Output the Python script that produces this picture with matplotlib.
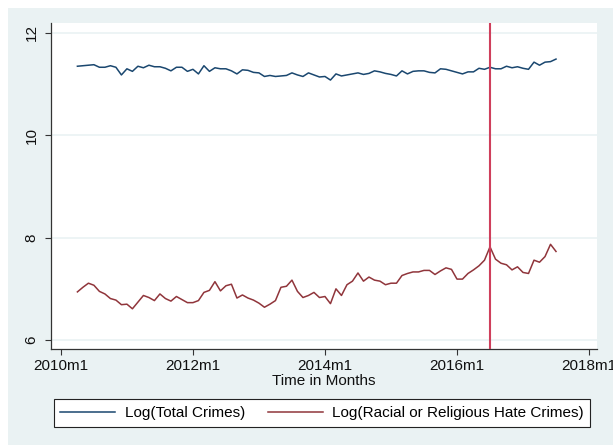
import numpy as np
import matplotlib
matplotlib.use('Agg')
import matplotlib.pyplot as plt
from matplotlib.patches import Rectangle

plt.rcParams['font.family'] = ['Liberation Sans', 'DejaVu Sans']

# monthly index counted from 2010m1 (0 = 2010m1)
months = np.arange(3, 91)

log_total = [11.35, 11.36, 11.37, 11.38, 11.33, 11.33, 11.36, 11.33, 11.18, 11.30,
             11.25, 11.35, 11.32, 11.37, 11.34, 11.34, 11.31, 11.26, 11.33, 11.33,
             11.25, 11.29, 11.20, 11.36, 11.25, 11.32, 11.30, 11.30, 11.26, 11.20,
             11.28, 11.27, 11.23, 11.22, 11.15, 11.17, 11.15, 11.16, 11.17, 11.22,
             11.18, 11.15, 11.22, 11.18, 11.14, 11.15, 11.08, 11.20, 11.16, 11.18,
             11.20, 11.22, 11.19, 11.21, 11.26, 11.24, 11.21, 11.19, 11.16, 11.26,
             11.20, 11.25, 11.26, 11.26, 11.23, 11.22, 11.30, 11.29, 11.26, 11.23,
             11.20, 11.24, 11.24, 11.31, 11.29, 11.33, 11.30, 11.30, 11.35, 11.32,
             11.34, 11.31, 11.29, 11.43, 11.37, 11.43, 11.44, 11.49]

log_hate = [6.94, 7.03, 7.11, 7.07, 6.95, 6.90, 6.81, 6.78, 6.69, 6.70,
            6.61, 6.74, 6.87, 6.83, 6.77, 6.90, 6.81, 6.76, 6.85, 6.79,
            6.73, 6.73, 6.77, 6.93, 6.97, 7.14, 6.96, 7.06, 7.09, 6.82,
            6.88, 6.82, 6.78, 6.72, 6.64, 6.70, 6.77, 7.03, 7.05, 7.17,
            6.95, 6.83, 6.87, 6.93, 6.83, 6.85, 6.71, 7.00, 6.87, 7.08,
            7.15, 7.31, 7.15, 7.23, 7.17, 7.15, 7.08, 7.11, 7.11, 7.26,
            7.30, 7.33, 7.33, 7.36, 7.36, 7.28, 7.35, 7.41, 7.38, 7.19,
            7.19, 7.30, 7.37, 7.45, 7.56, 7.82, 7.58, 7.50, 7.47, 7.37,
            7.43, 7.32, 7.30, 7.56, 7.52, 7.63, 7.87, 7.73]

referendum_month = 78  # 2016m7
xtick_months = [0, 24, 48, 72, 96]
xtick_labels = ['2010m1', '2012m1', '2014m1', '2016m1', '2018m1']
yticks = [6, 8, 10, 12]

bg = '#eaf2f3'
navy = '#1a476f'
maroon = '#90353b'

fig = plt.figure(figsize=(6.13, 4.45), dpi=100)
fig.patch.set_facecolor('white')
# light graph region behind everything, leaving a thin white strip top and left
fig.patches.append(Rectangle((8 / 613, 0), 1, 1 - 8 / 445, transform=fig.transFigure,
                             facecolor=bg, edgecolor='none', zorder=-10))

ax = fig.add_axes([51 / 613, 96 / 445, 546 / 613, 326 / 445])
ax.set_facecolor('white')

for y in yticks:
    ax.axhline(y, color=bg, linewidth=1.2, zorder=1)

ax.plot(months, log_total, color=navy, linewidth=1.1, label='Log(Total Crimes)', zorder=3)
ax.plot(months, log_hate, color=maroon, linewidth=1.1,
        label='Log(Racial or Religious Hate Crimes)', zorder=3)
ax.axvline(referendum_month, color='#cf3f5c', linewidth=1.5, zorder=4)

ax.set_xlim(-1.8, 97.45)
ax.set_ylim(5.824, 12.195)
ax.set_xticks(xtick_months)
ax.set_xticklabels(xtick_labels)
ax.set_yticks(yticks)
ax.set_yticklabels([str(v) for v in yticks], rotation=90, va='center')
ax.tick_params(axis='both', direction='out', length=4, width=0.8, color='#333333',
               labelsize=11, labelcolor='#111111')
ax.tick_params(axis='y', pad=5)
ax.tick_params(axis='x', pad=3)

for side in ['top', 'right']:
    ax.spines[side].set_visible(False)
for side in ['left', 'bottom']:
    ax.spines[side].set_color('#333333')
    ax.spines[side].set_linewidth(0.9)

ax.set_xlabel('Time in Months', fontsize=11, color='#111111', labelpad=1)

leg = fig.legend(loc='center', bbox_to_anchor=(322 / 613, 1 - 413 / 445), ncol=2,
                 fontsize=11, frameon=True, fancybox=False, handlelength=3.6,
                 columnspacing=1.5, borderpad=0.45, borderaxespad=0, handletextpad=0.6)
leg.get_frame().set_edgecolor('#222222')
leg.get_frame().set_linewidth(0.8)
leg.get_frame().set_alpha(1)

fig.savefig('out.png', dpi=100, facecolor=fig.get_facecolor())
